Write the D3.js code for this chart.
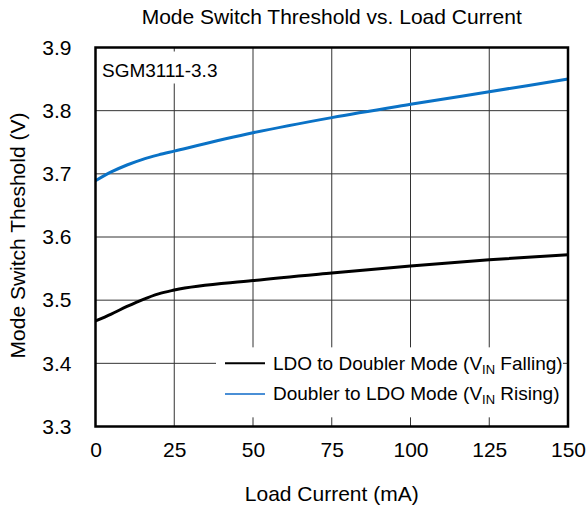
<!DOCTYPE html>
<html>
<head>
<meta charset="utf-8">
<script src="https://cdn.jsdelivr.net/npm/d3@7"></script>
<style>
  body { margin: 0; background: #fff; }
  svg { font-family: Arial, "Liberation Sans", sans-serif; }
</style>
</head>
<body>
<div id="chart"></div>
<script>
// data
const loadCurrent = [0, 5, 10, 15, 20, 25, 50, 75, 100, 125, 150];
const falling = [3.467, 3.478, 3.490, 3.501, 3.510, 3.516, 3.531, 3.543, 3.554, 3.564, 3.572];
const rising = [3.689, 3.703, 3.714, 3.723, 3.730, 3.736, 3.765, 3.789, 3.810, 3.830, 3.850];
const xTicks = [0, 25, 50, 75, 100, 125, 150];
const yTicks = [3.3, 3.4, 3.5, 3.6, 3.7, 3.8, 3.9];

const series = [
    { name: 'LDO to Doubler Mode (V', sub: 'IN', tail: ' Falling)', values: falling, color: '#000000', legendColor: '#000000' },
    { name: 'Doubler to LDO Mode (V', sub: 'IN', tail: ' Rising)', values: rising, color: '#0a72c6', legendColor: '#4a8fd6' }
];

const W = 588, H = 510;
const margin = { top: 47.5, right: 20, bottom: 83.5, left: 95.5 };
const width = W - margin.left - margin.right;
const height = H - margin.top - margin.bottom;

const svg = d3.select('#chart').append('svg')
    .attr('width', W)
    .attr('height', H);

const g = svg.append('g')
    .attr('transform', `translate(${margin.left},${margin.top})`);

const x = d3.scaleLinear().domain([0, 150]).range([0, width]);
const y = d3.scaleLinear().domain([3.3, 3.9]).range([height, 0]);

// grid
g.append('g')
    .selectAll('line')
    .data(xTicks.slice(1, -1))
    .join('line')
    .attr('x1', d => x(d)).attr('x2', d => x(d))
    .attr('y1', 0).attr('y2', height)
    .attr('stroke', '#333').attr('stroke-width', 1);

g.append('g')
    .selectAll('line')
    .data(yTicks.slice(1, -1))
    .join('line')
    .attr('x1', 0).attr('x2', width)
    .attr('y1', d => y(d)).attr('y2', d => y(d))
    .attr('stroke', '#333').attr('stroke-width', 1);

// white boxes behind the label and legend
g.append('rect')
    .attr('x', 1).attr('y', 4)
    .attr('width', 134).attr('height', 32)
    .attr('fill', '#fff');

g.append('rect')
    .attr('x', 120.5).attr('y', y(3.4) - 16)
    .attr('width', 347).attr('height', 70)
    .attr('fill', '#fff');

// lines
const line = d3.line()
    .x((d, i) => x(loadCurrent[i]))
    .y(d => y(d))
    .curve(d3.curveMonotoneX);

series.forEach(s => {
    g.append('path')
        .datum(s.values)
        .attr('d', line)
        .attr('fill', 'none')
        .attr('stroke', s.color)
        .attr('stroke-width', 3);
});

// frame
g.append('rect')
    .attr('x', 0).attr('y', 0)
    .attr('width', width).attr('height', height)
    .attr('fill', 'none')
    .attr('stroke', '#000')
    .attr('stroke-width', 2.5);

// axes
const xAxis = g.append('g')
    .attr('transform', `translate(0,${height})`)
    .call(d3.axisBottom(x).tickValues(xTicks).tickSize(0).tickPadding(16));
xAxis.select('.domain').remove();
xAxis.selectAll('text').attr('font-size', 21).attr('fill', '#000');

const yAxis = g.append('g')
    .call(d3.axisLeft(y).tickValues(yTicks).tickSize(0).tickPadding(24).tickFormat(d3.format('.1f')));
yAxis.select('.domain').remove();
yAxis.selectAll('text').attr('font-size', 21).attr('fill', '#000');

// label inside plot
g.append('text')
    .attr('x', 6.5).attr('y', 29)
    .attr('font-size', 19)
    .text('SGM3111-3.3');

// legend
const leg = g.append('g')
    .attr('transform', 'translate(129.5,0)');

series.forEach((s, i) => {
    const yy = y(3.4) + i * 30.6;
    leg.append('line')
        .attr('x1', 0).attr('x2', 40)
        .attr('y1', yy).attr('y2', yy)
        .attr('stroke', s.legendColor)
        .attr('stroke-width', 2);
    const t = leg.append('text')
        .attr('x', 48).attr('y', yy + 6.5)
        .attr('font-size', 19);
    t.append('tspan').text(s.name);
    t.append('tspan').attr('font-size', 13).attr('dy', 4).text(s.sub);
    t.append('tspan').attr('dy', -4).text(s.tail);
});

// titles
svg.append('text')
    .attr('x', margin.left + width / 2).attr('y', 24)
    .attr('text-anchor', 'middle')
    .attr('font-size', 21)
    .text('Mode Switch Threshold vs. Load Current');

svg.append('text')
    .attr('x', margin.left + width / 2).attr('y', 501)
    .attr('text-anchor', 'middle')
    .attr('font-size', 21)
    .text('Load Current (mA)');

svg.append('text')
    .attr('transform', `translate(25,${margin.top + height / 2 - 1.5}) rotate(-90)`)
    .attr('text-anchor', 'middle')
    .attr('font-size', 21)
    .text('Mode Switch Theshold (V)');
</script>
</body>
</html>
